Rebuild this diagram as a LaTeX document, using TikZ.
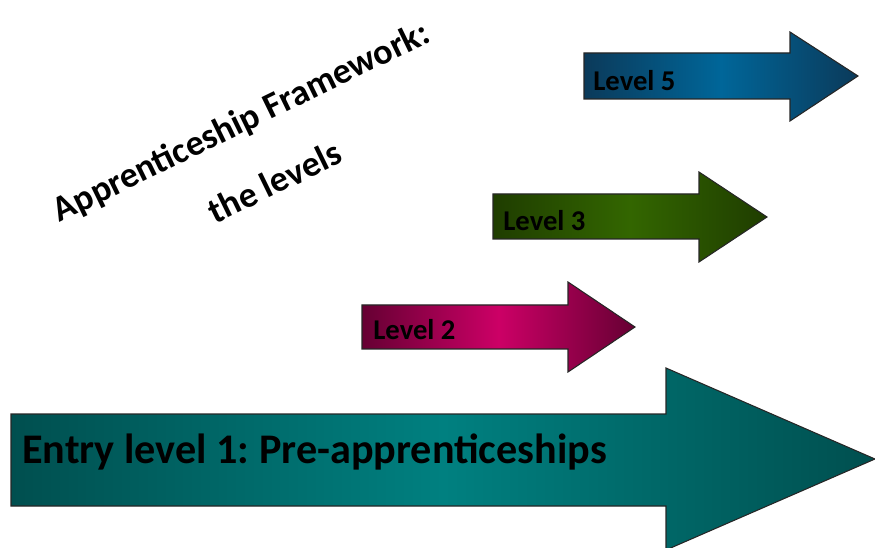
\documentclass[tikz,border=0pt]{standalone}
\usepackage{fontspec}
\setmainfont{Carlito}
\frenchspacing
\definecolor{azulO}{HTML}{0B3A5A}
\definecolor{azulC}{HTML}{006699}
\definecolor{verdeO}{HTML}{1F3D00}
\definecolor{verdeC}{HTML}{336600}
\definecolor{rosaO}{HTML}{660033}
\definecolor{rosaC}{HTML}{CC0066}
\definecolor{tealO}{HTML}{004F4F}
\definecolor{tealC}{HTML}{008080}
\begin{document}
\begin{tikzpicture}[scale=1,
    flecha/.style={draw=black!85, line width=0.6pt, line join=miter},
    nivel/.style={anchor=base west, inner sep=0pt, font=\bfseries\fontsize{16.3}{19}\selectfont},
    titulo/.style={anchor=base, inner sep=0pt, rotate=26, font=\bfseries\fontsize{20.5}{24}\selectfont}]
    \useasboundingbox (0,0) rectangle (17.5,10.94);

    % Título
    \node[titulo] (titulo) at (4.92,8.30) {Apprenticeship Framework:};
    \node[titulo] (subtitulo) at (5.60,7.08) {the levels};

    % Flecha 1: Entry level 1
    \shadedraw[flecha, left color=tealO, right color=tealO, middle color=tealC]
        (0.22,0.82) -- (13.32,0.82) -- (13.32,-0.06) -- (17.5,1.76) -- (13.32,3.58) -- (13.32,2.66) -- (0.22,2.66) -- cycle;
    \node[nivel, font=\bfseries\fontsize{24}{28}\selectfont] (entrada) at (0.44,1.68) {Entry level 1: Pre-apprenticeships};

    % Flecha 2: Level 2
    \shadedraw[flecha, left color=rosaO, right color=rosaO, middle color=rosaC]
        (7.24,3.96) -- (11.36,3.96) -- (11.36,3.50) -- (12.70,4.40) -- (11.36,5.30) -- (11.36,4.84) -- (7.24,4.84) -- cycle;
    \node[nivel] (nivel2) at (7.46,4.14) {Level 2};

    % Flecha 3: Level 3
    \shadedraw[flecha, left color=verdeO, right color=verdeO, middle color=verdeC]
        (9.86,6.16) -- (13.98,6.16) -- (13.98,5.70) -- (15.34,6.60) -- (13.98,7.50) -- (13.98,7.06) -- (9.86,7.06) -- cycle;
    \node[nivel] (nivel3) at (10.06,6.32) {Level 3};

    % Flecha 4: Level 5
    \shadedraw[flecha, left color=azulO, right color=azulO, middle color=azulC]
        (11.68,8.96) -- (15.80,8.96) -- (15.80,8.52) -- (17.16,9.42) -- (15.80,10.30) -- (15.80,9.88) -- (11.68,9.88) -- cycle;
    \node[nivel] (nivel5) at (11.86,9.12) {Level 5};
\end{tikzpicture}
\end{document}
